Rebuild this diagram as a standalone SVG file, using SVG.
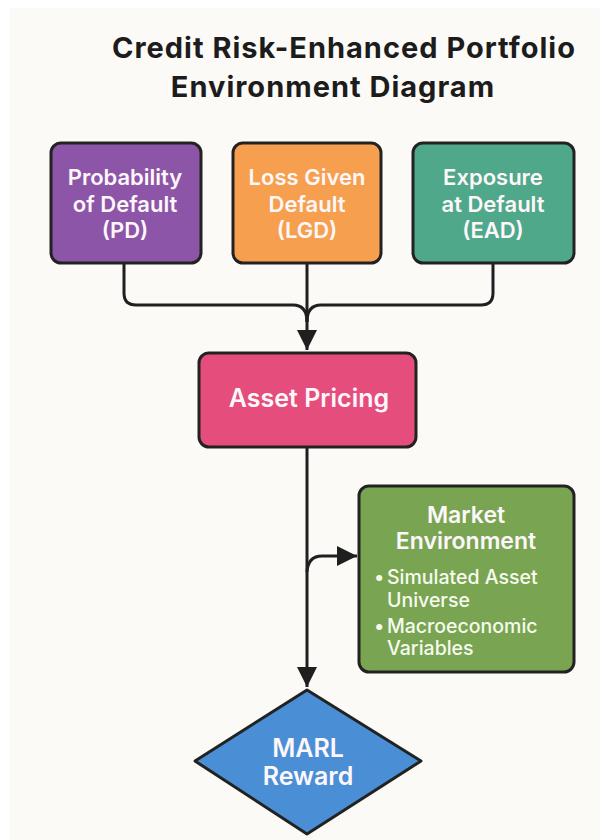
<svg xmlns="http://www.w3.org/2000/svg" width="600" height="840" viewBox="0 0 600 840">
<defs>
<marker id="arrow" viewBox="0 0 20 20" refX="20" refY="10" markerWidth="20" markerHeight="20" markerUnits="userSpaceOnUse" orient="auto">
<path d="M0,0 L20,10 L0,20 z" fill="#1f1f1f"/>
</marker>
<style>
.box{stroke:#222;stroke-width:3;stroke-linejoin:round}
.lbl{font-family:Inter,"Liberation Sans",sans-serif;font-weight:600;fill:#fdf7fa;text-anchor:middle}
.title{font-family:Inter,"Liberation Sans",sans-serif;font-weight:700;fill:#1c1c1c;text-anchor:middle;font-size:29px;letter-spacing:1px}
.conn{fill:none;stroke:#1f1f1f;stroke-width:3;stroke-linejoin:round;stroke-linecap:butt}
.bul{font-family:Inter,"Liberation Sans",sans-serif;font-weight:500;fill:#f7fbef;font-size:19.5px}
</style>
</defs>
<rect x="0" y="0" width="600" height="840" fill="#ffffff"/>
<rect x="10" y="8" width="590" height="832" fill="#fcfaf6"/>
<g id="title">
<text class="title" x="344" y="58">Credit Risk-Enhanced Portfolio</text>
<text class="title" x="333" y="97">Environment Diagram</text>
</g>
<g id="connectors">
<path class="conn" d="M124,263 V293 Q124,305 136,305 H293 Q307,305 307,322"/>
<path class="conn" d="M493,263 V293 Q493,305 481,305 H321 Q307,305 307,322"/>
<path class="conn" d="M307,263 V350" marker-end="url(#arrow)"/>
<path class="conn" d="M307,447 V687" marker-end="url(#arrow)"/>
<path class="conn" d="M307,572 Q308,556 322,556 H357" marker-end="url(#arrow)"/>
</g>
<g id="pd">
<rect class="box" x="51" y="143" width="150" height="120" rx="10" fill="#8c55a7"/>
<text class="lbl" font-size="22" x="125" y="185">Probability</text>
<text class="lbl" font-size="22" x="125" y="212">of Default</text>
<text class="lbl" font-size="22" x="125" y="238">(PD)</text>
</g>
<g id="lgd">
<rect class="box" x="233" y="143" width="148" height="120" rx="10" fill="#f6a04f"/>
<text class="lbl" font-size="22" x="307" y="185">Loss Given</text>
<text class="lbl" font-size="22" x="307" y="212">Default</text>
<text class="lbl" font-size="22" x="307" y="238">(LGD)</text>
</g>
<g id="ead">
<rect class="box" x="413" y="143" width="161" height="120" rx="10" fill="#4fa88a"/>
<text class="lbl" font-size="22" x="493" y="185">Exposure</text>
<text class="lbl" font-size="22" x="493" y="212">at Default</text>
<text class="lbl" font-size="22" x="493" y="238">(EAD)</text>
</g>
<g id="asset-pricing">
<rect class="box" x="199" y="353" width="217" height="94" rx="10" fill="#e54d7c"/>
<text class="lbl" font-size="25" x="309" y="407">Asset Pricing</text>
</g>
<g id="market-environment">
<rect class="box" x="359" y="486" width="215" height="186" rx="10" fill="#79a553"/>
<text class="lbl" font-size="23" x="466" y="523">Market</text>
<text class="lbl" font-size="23" x="466" y="549">Environment</text>
<text class="bul" x="374" y="584">•</text>
<text class="bul" x="387" y="584">Simulated Asset</text>
<text class="bul" x="387" y="607">Universe</text>
<text class="bul" x="374" y="633">•</text>
<text class="bul" x="387" y="633">Macroeconomic</text>
<text class="bul" x="387" y="655">Variables</text>
</g>
<g id="marl-reward">
<polygon class="box" points="307,690 421,761 307,834 195,761" fill="#4a8fd6"/>
<text class="lbl" font-size="25" x="308" y="757">MARL</text>
<text class="lbl" font-size="25" x="308" y="785">Reward</text>
</g>
</svg>
